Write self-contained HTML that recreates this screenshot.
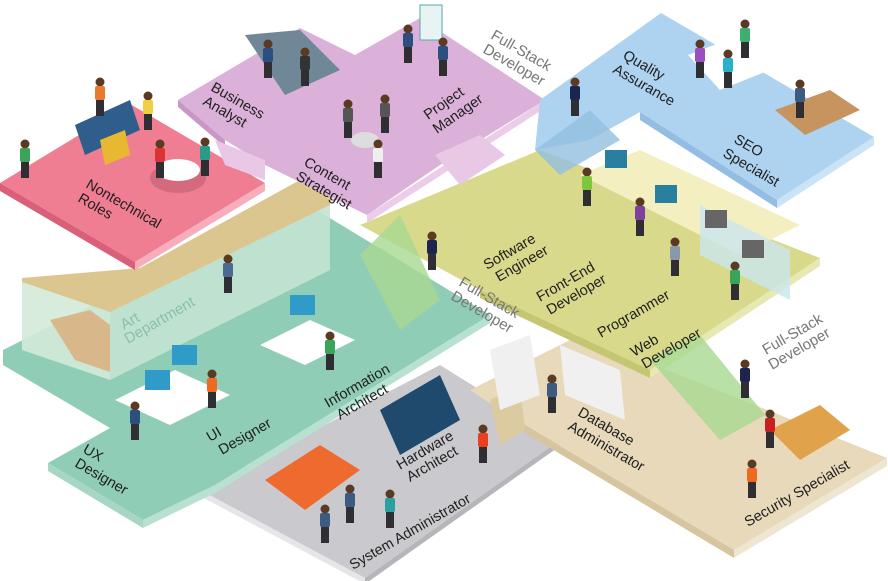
<!DOCTYPE html>
<html><head><meta charset="utf-8"><style>
html,body{margin:0;padding:0;background:#fff;}
svg{display:block;}
text{font-family:"Liberation Sans",sans-serif;font-size:14.5px;fill:#1e1e1e;}
.g{fill:#777;font-size:15px;}
.a{fill:#8abfaa;font-size:15px;}
</style></head><body>
<svg width="888" height="581" viewBox="0 0 888 581" xmlns="http://www.w3.org/2000/svg">
<defs>
<g id="p"><circle cx="0" cy="-26" r="4.5" fill="#5a3a22"/><rect x="-5" y="-22" width="10" height="14" rx="2"/><rect x="-4" y="-8" width="8" height="16" fill="#2e2e33"/></g>
</defs>
<!-- gray platform -->
<polygon points="200,490 440,365 560,440 365,578" fill="#cacace"/>
<polygon points="200,490 365,578 365,584 200,496" fill="#e6e6e8"/>
<polygon points="365,578 560,440 560,446 365,584" fill="#b5b5ba"/>
<!-- beige platform -->
<polygon points="470,390 580,335 887,458 734,550 500,410" fill="#e7d9b9"/>
<polygon points="734,550 887,458 887,466 734,558" fill="#efe6d2"/>
<polygon points="500,410 734,550 734,558 500,418" fill="#d6c59e"/>
<polygon points="490,400 520,385 525,430 500,445" fill="#dccaa0"/>
<!-- teal platform -->
<polygon points="3,350 300,200 490,315 215,485 143,520 48,463 110,428 3,365" fill="#8fcdb7"/>
<polygon points="143,520 215,485 215,493 143,528" fill="#b9e1d2"/>
<polygon points="215,485 490,315 490,323 215,493" fill="#b9e1d2"/>
<polygon points="48,463 143,520 143,528 48,471" fill="#a7d6c4"/>
<!-- art dept room -->
<polygon points="22,280 110,310 110,380 22,350" fill="#d4ead9" opacity="0.9"/>
<polygon points="110,310 330,200 330,270 110,380" fill="#c3e4d2" opacity="0.9"/>
<polygon points="22,278 140,268 300,180 335,190 330,205 110,312 22,282" fill="#dcc690"/>
<polygon points="50,320 90,310 110,325 110,372 75,360" fill="#d8b88a"/>
<!-- yellow-green platform -->
<polygon points="360,225 540,150 820,258 650,370 480,290" fill="#d8d98a"/>
<polygon points="650,370 820,258 820,266 650,378" fill="#e8e8b2"/>
<polygon points="480,290 650,370 650,378 480,298" fill="#c5c672"/>
<polygon points="580,175 640,150 800,225 740,255" fill="#f3efc0"/>
<polygon points="700,205 790,250 790,300 700,255" fill="#cbe6ef" opacity="0.8"/>
<rect x="605" y="150" width="22" height="18" fill="#2a7ea0"/>
<rect x="655" y="185" width="22" height="18" fill="#2a7ea0"/>
<rect x="705" y="210" width="22" height="18" fill="#666"/>
<rect x="742" y="240" width="22" height="18" fill="#666"/>
<!-- escalators -->
<polygon points="650,360 700,335 765,415 720,440" fill="#a8d890" opacity="0.8"/>
<polygon points="360,255 400,215 440,300 400,330" fill="#a8d890" opacity="0.8"/>
<!-- pink platform -->
<polygon points="0,183 130,104 265,183 135,262" fill="#ef7e93"/>
<polygon points="0,183 135,262 135,270 0,191" fill="#d95f7a"/>
<polygon points="135,262 265,183 265,191 135,270" fill="#f6aebd"/>
<polygon points="75,125 130,100 140,130 85,155" fill="#2f5d8c"/>
<polygon points="100,140 125,130 130,155 105,165" fill="#e8b830"/>
<ellipse cx="178" cy="178" rx="28" ry="15" fill="#d46a7e"/>
<ellipse cx="178" cy="170" rx="22" ry="11" fill="#fff"/>
<!-- lavender platform -->
<polygon points="178,100 300,28 355,55 420,18 545,100 440,165 367,215 265,165 225,140" fill="#dcb1d9"/>
<polygon points="178,100 225,140 225,147 178,107" fill="#c996c6"/>
<polygon points="367,215 545,100 545,108 367,223" fill="#ebcde9"/>
<polygon points="215,140 265,160 265,180 225,165" fill="#e9c8e6"/>
<polygon points="435,155 480,135 505,155 460,185" fill="#e9c8e6"/>
<polygon points="245,35 300,30 340,70 285,95" fill="#6f8796"/>
<ellipse cx="365" cy="140" rx="14" ry="8" fill="#ddd"/>
<rect x="420" y="5" width="22" height="35" fill="#e8f4f4" stroke="#5aa" stroke-width="1"/>
<!-- blue platform -->
<polygon points="661,13 874,137 777,200 640,112 590,140 535,150 540,100" fill="#aed3f0"/>
<polygon points="777,200 874,137 874,145 777,208" fill="#cbe3f6"/>
<polygon points="640,112 777,200 777,208 640,120" fill="#93bde2"/>
<polygon points="535,150 590,110 620,140 560,175" fill="#93bfe0" opacity="0.8"/>
<polygon points="688,55 740,35 770,70 720,90" fill="#fff"/>
<polygon points="775,110 830,90 860,110 805,135" fill="#c7945f"/>
<!-- servers, van -->
<polygon points="380,410 440,375 460,420 400,455" fill="#1f4a6e"/>
<polygon points="265,480 320,445 360,470 305,510" fill="#ee6a2e"/>
<!-- desks teal -->
<polygon points="115,400 175,370 230,395 170,425" fill="#fff"/>
<polygon points="260,345 310,320 355,340 305,365" fill="#fff"/>
<rect x="145" y="370" width="25" height="20" fill="#2e9bc8"/>
<rect x="172" y="345" width="25" height="20" fill="#2e9bc8"/>
<rect x="290" y="295" width="25" height="20" fill="#2e9bc8"/>
<!-- beige objects -->
<polygon points="490,350 530,335 540,395 500,410" fill="#f0f0f0"/>
<polygon points="560,345 620,370 625,420 565,395" fill="#f0f0f0"/>
<polygon points="770,430 820,405 850,430 800,460" fill="#e0a24a"/>
<!-- people -->
<use href="#p" x="25" y="170" fill="#3aa45a"/>
<use href="#p" x="100" y="108" fill="#e87a30"/>
<use href="#p" x="148" y="122" fill="#f0d040"/>
<use href="#p" x="160" y="170" fill="#d33"/>
<use href="#p" x="205" y="168" fill="#2a9a8a"/>
<use href="#p" x="268" y="70" fill="#2d4f80"/>
<use href="#p" x="305" y="78" fill="#333"/>
<use href="#p" x="348" y="130" fill="#555"/>
<use href="#p" x="385" y="125" fill="#555"/>
<use href="#p" x="378" y="170" fill="#eee"/>
<use href="#p" x="408" y="55" fill="#2d4f80"/>
<use href="#p" x="443" y="68" fill="#2d4f80"/>
<use href="#p" x="575" y="108" fill="#1c2550"/>
<use href="#p" x="700" y="70" fill="#9a4fc0"/>
<use href="#p" x="745" y="50" fill="#3bb070"/>
<use href="#p" x="728" y="80" fill="#2ab0c8"/>
<use href="#p" x="800" y="110" fill="#3d5a80"/>
<use href="#p" x="587" y="198" fill="#7cc83a"/>
<use href="#p" x="640" y="228" fill="#8040a0"/>
<use href="#p" x="675" y="268" fill="#8899aa"/>
<use href="#p" x="735" y="292" fill="#3aa45a"/>
<use href="#p" x="432" y="262" fill="#1c2550"/>
<use href="#p" x="552" y="405" fill="#3d5a80"/>
<use href="#p" x="745" y="390" fill="#1c2550"/>
<use href="#p" x="483" y="455" fill="#e84020"/>
<use href="#p" x="390" y="520" fill="#2aa0a0"/>
<use href="#p" x="325" y="535" fill="#3d5a80"/>
<use href="#p" x="350" y="515" fill="#3d5a80"/>
<use href="#p" x="752" y="490" fill="#ee6a20"/>
<use href="#p" x="770" y="440" fill="#c82020"/>
<use href="#p" x="212" y="400" fill="#ee6a20"/>
<use href="#p" x="135" y="432" fill="#2d4f80"/>
<use href="#p" x="330" y="362" fill="#3aa45a"/>
<use href="#p" x="228" y="285" fill="#4a6a90"/>

<!-- labels -->
<text transform="translate(85,187) rotate(30)">Nontechnical</text>
<text transform="translate(77,201) rotate(30)">Roles</text>
<text transform="translate(210,90) rotate(30)">Business</text>
<text transform="translate(202,104) rotate(30)">Analyst</text>
<text transform="translate(303,165) rotate(30)">Content</text>
<text transform="translate(295,179) rotate(30)">Strategist</text>
<text transform="translate(428,120) rotate(-35)">Project</text>
<text transform="translate(437,134) rotate(-35)">Manager</text>
<text class="g" transform="translate(490,38) rotate(30)">Full-Stack</text>
<text class="g" transform="translate(482,52) rotate(30)">Developer</text>
<text transform="translate(622,58) rotate(30)">Quality</text>
<text transform="translate(612,72) rotate(30)">Assurance</text>
<text transform="translate(733,142) rotate(30)">SEO</text>
<text transform="translate(722,156) rotate(30)">Specialist</text>
<text transform="translate(487,270) rotate(-30)">Software</text>
<text transform="translate(499,282) rotate(-30)">Engineer</text>
<text transform="translate(540,302) rotate(-30)">Front-End</text>
<text transform="translate(550,315) rotate(-30)">Developer</text>
<text transform="translate(601,338) rotate(-30)">Programmer</text>
<text transform="translate(634,357) rotate(-30)">Web</text>
<text transform="translate(645,369) rotate(-30)">Developer</text>
<text class="g" transform="translate(766,355) rotate(-30)">Full-Stack</text>
<text class="g" transform="translate(772,370) rotate(-30)">Developer</text>
<text class="g" transform="translate(458,285) rotate(30)">Full-Stack</text>
<text class="g" transform="translate(450,299) rotate(30)">Developer</text>
<text class="a" transform="translate(124,330) rotate(-30)">Art</text>
<text class="a" transform="translate(128,344) rotate(-30)">Department</text>
<text transform="translate(82,452) rotate(30)">UX</text>
<text transform="translate(74,466) rotate(30)">Designer</text>
<text transform="translate(210,442) rotate(-30)">UI</text>
<text transform="translate(222,455) rotate(-30)">Designer</text>
<text transform="translate(328,408) rotate(-30)">Information</text>
<text transform="translate(340,420) rotate(-30)">Architect</text>
<text transform="translate(400,470) rotate(-30)">Hardware</text>
<text transform="translate(410,482) rotate(-30)">Architect</text>
<text transform="translate(353,570) rotate(-30)">System Administrator</text>
<text transform="translate(577,415) rotate(30)">Database</text>
<text transform="translate(567,429) rotate(30)">Administrator</text>
<text transform="translate(748,527) rotate(-30)">Security Specialist</text>
</svg>
</body></html>
